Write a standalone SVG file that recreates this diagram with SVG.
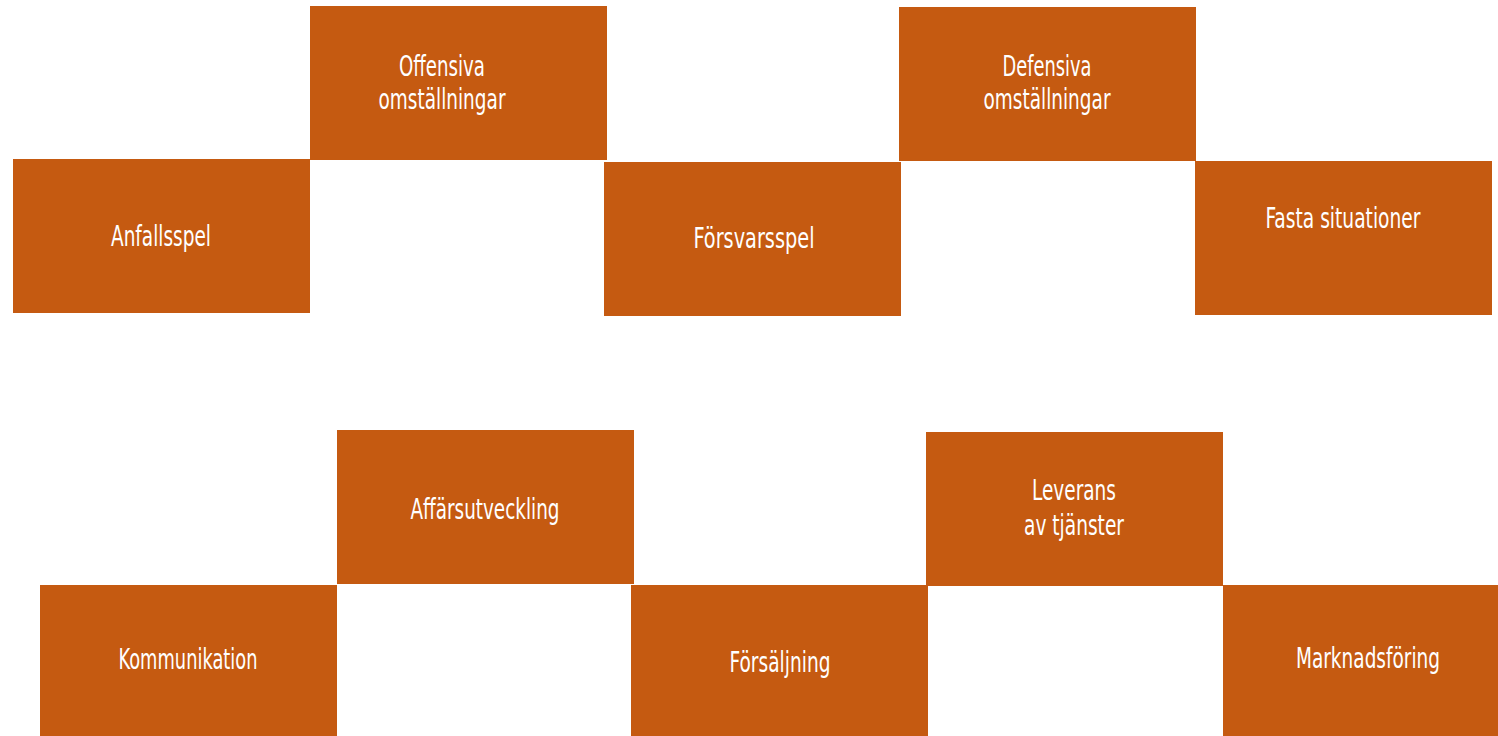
<svg xmlns="http://www.w3.org/2000/svg" width="1498" height="736" viewBox="0 0 1498 736">
<style>
rect.box{fill:#C55A11;}
text.lbl{fill:#FFFFFF;font-family:"DejaVu Sans Condensed","DejaVu Sans",sans-serif;font-size:29px;text-anchor:middle;}
</style>
<rect x="0" y="0" width="1498" height="736" fill="#FFFFFF"/>
<g id="connectors"></g>
<g id="node-offensiva">
<rect class="box" x="310" y="6" width="297" height="154"/>
<text class="lbl" x="442" y="76" textLength="86" lengthAdjust="spacingAndGlyphs">Offensiva</text>
<text class="lbl" x="442" y="109" textLength="127" lengthAdjust="spacingAndGlyphs">omställningar</text>
</g>
<g id="node-anfallsspel">
<rect class="box" x="13" y="159" width="297" height="154"/>
<text class="lbl" x="161" y="246" textLength="100" lengthAdjust="spacingAndGlyphs">Anfallsspel</text>
</g>
<g id="node-forsvarsspel">
<rect class="box" x="604" y="162" width="297" height="154"/>
<text class="lbl" x="754" y="248" textLength="121" lengthAdjust="spacingAndGlyphs">Försvarsspel</text>
</g>
<g id="node-defensiva">
<rect class="box" x="899" y="7" width="297" height="154"/>
<text class="lbl" x="1047" y="76" textLength="89" lengthAdjust="spacingAndGlyphs">Defensiva</text>
<text class="lbl" x="1047" y="109" textLength="127" lengthAdjust="spacingAndGlyphs">omställningar</text>
</g>
<g id="node-fasta">
<rect class="box" x="1195" y="161" width="297" height="154"/>
<text class="lbl" x="1343" y="228" textLength="155" lengthAdjust="spacingAndGlyphs">Fasta situationer</text>
</g>
<g id="node-affarsutveckling">
<rect class="box" x="337" y="430" width="297" height="154"/>
<text class="lbl" x="485" y="519" textLength="149" lengthAdjust="spacingAndGlyphs">Affärsutveckling</text>
</g>
<g id="node-kommunikation">
<rect class="box" x="40" y="585" width="297" height="151"/>
<text class="lbl" x="188" y="669" textLength="139" lengthAdjust="spacingAndGlyphs">Kommunikation</text>
</g>
<g id="node-forsaljning">
<rect class="box" x="631" y="585" width="297" height="151"/>
<text class="lbl" x="780" y="672" textLength="101" lengthAdjust="spacingAndGlyphs">Försäljning</text>
</g>
<g id="node-leverans">
<rect class="box" x="926" y="432" width="297" height="154"/>
<text class="lbl" x="1074" y="500" textLength="84" lengthAdjust="spacingAndGlyphs">Leverans</text>
<text class="lbl" x="1074" y="535" textLength="100" lengthAdjust="spacingAndGlyphs">av tjänster</text>
</g>
<g id="node-marknadsforing">
<rect class="box" x="1223" y="585" width="275" height="151"/>
<text class="lbl" x="1368" y="668" textLength="144" lengthAdjust="spacingAndGlyphs">Marknadsföring</text>
</g>
</svg>
